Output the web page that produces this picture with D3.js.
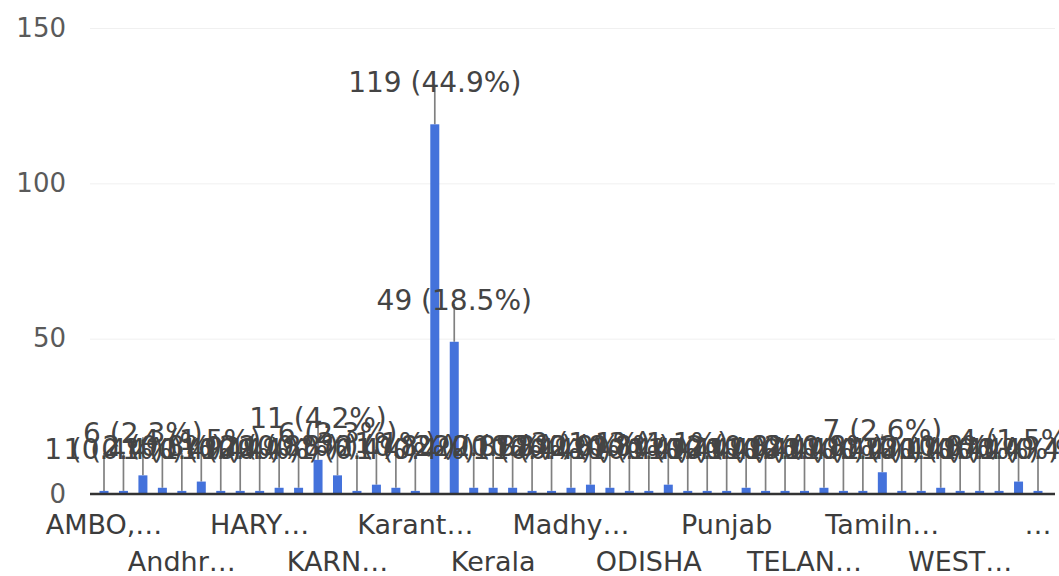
<!DOCTYPE html>
<html>
<head>
<meta charset="utf-8">
<script src="https://cdn.jsdelivr.net/npm/d3@7"></script>
<style>
body{margin:0;background:#fff;}
svg{display:block;font-family:"DejaVu Sans",sans-serif;}
</style>
</head>
<body>
<svg id="chart"></svg>
<script>
//responses per state, in the order the form sorted them
var categories = [
"AMBO, ETHIOPIA","ANDHRA PRADESH","Andaman","Andhra","Andhra Pradesh","Assam","Bihar","Gujarat",
"HARYANA","Haryana","Himachal Pradesh","Jharkhand","KARNATAKA","KERALA","Kanataka","Karanataka",
"Karantaka","Karnataka","Karnataka ","Karnatka","Kerala","Kerala ","MADHYA PRADESH","MAHARASHTRA",
"Madhya Pradesh","Maharashtra","Manipur","Meghalaya","ODISHA","Odisha","PUNJAB","Pondicherry",
"Punjab","RAJASTHAN","Rajasthan","TAMIL NADU","TELANGANA","Tamil Nadu","Tamil Nadu ","Tamil nadu",
"Tamilnadu","Telangana","UTTAR PRADESH","Uttar Pradesh","WEST BENGAL","West Bengal","bangalore","karnataka",
"tamil nadu"
];

var counts = [
1,1,6,2,1,4,1,1,
1,2,2,11,6,1,3,2,
1,119,49,2,2,2,1,1,
2,3,2,1,1,3,1,1,
1,2,1,1,1,2,1,1,
7,1,1,2,1,1,1,4,
1
];

//only every 4th category gets a label on the axis
var tickLabels = ["AMBO,…","Andhr…","HARY…","KARN…","Karant…","Kerala","Madhy…",
                  "ODISHA","Punjab","TELAN…","Tamiln…","WEST…","…"];

var yTicks = [0,50,100,150];

var initGraph = function(target)
{
    var screen = {width:1059, height:576};

    var svg = d3.select(target)
        .attr("width",screen.width)
        .attr("height",screen.height);

    var total = d3.sum(counts);
    var pct = d3.format(".1f");

    var xScale = d3.scalePoint()
        .domain(d3.range(categories.length))
        .range([104,1038]);

    var yScale = d3.scaleLinear()
        .domain([0,150])
        .range([494,28]);

    //gridlines + y labels
    var yAxis = d3.axisLeft(yScale)
        .tickValues(yTicks)
        .tickSize(-(1055-90))
        .tickPadding(24);

    var ya = svg.append("g")
        .attr("transform","translate(90,0)")
        .call(yAxis);
    ya.select(".domain").remove();
    ya.selectAll("line").attr("stroke","#f0f0f0");
    ya.selectAll("text")
        .attr("fill","#5a5a5a")
        .style("font-size","26px")
        .style("font-family","DejaVu Sans");

    var g = svg.append("g").classed("graph",true);

    //stems from the bar top to the label
    g.selectAll(".stem")
        .data(counts)
        .enter()
        .append("line")
        .classed("stem",true)
        .attr("x1",function(d,i){return xScale(i);})
        .attr("x2",function(d,i){return xScale(i);})
        .attr("y1",function(d){return yScale(d);})
        .attr("y2",function(d){return yScale(d)-38;})
        .attr("stroke","#808080")
        .attr("stroke-width",1.7);

    //bars
    g.selectAll(".bar")
        .data(counts)
        .enter()
        .append("rect")
        .classed("bar",true)
        .attr("x",function(d,i){return xScale(i)-4.5;})
        .attr("width",9)
        .attr("y",function(d){return yScale(d);})
        .attr("height",function(d){return yScale(0)-yScale(d);})
        .attr("fill","#4472db");

    //baseline
    svg.append("line")
        .attr("x1",90).attr("x2",1055)
        .attr("y1",yScale(0)).attr("y2",yScale(0))
        .attr("stroke","#333")
        .attr("stroke-width",2.5);

    //value labels, small ones first so the big ones sit on top
    var order = d3.range(counts.length).sort(function(a,b){return counts[a]-counts[b];});
    g.selectAll(".ann")
        .data(order)
        .enter()
        .append("text")
        .classed("ann",true)
        .attr("x",function(i){return xScale(i);})
        .attr("y",function(i){return yScale(counts[i])-32;})
        .attr("text-anchor","middle")
        .attr("fill","#444")
        .style("font-size","28px")
        .text(function(i){return counts[i]+" ("+pct(counts[i]/total*100)+"%)";});

    //x labels, two staggered rows
    svg.append("g")
        .selectAll("text")
        .data(tickLabels)
        .enter()
        .append("text")
        .attr("x",function(d,k){return xScale(k*4);})
        .attr("y",function(d,k){return k%2==0 ? 534 : 571;})
        .attr("text-anchor","middle")
        .attr("fill","#3c3c3c")
        .style("font-size","27px")
        .text(function(d){return d;});
}

initGraph("#chart");
</script>
</body>
</html>
